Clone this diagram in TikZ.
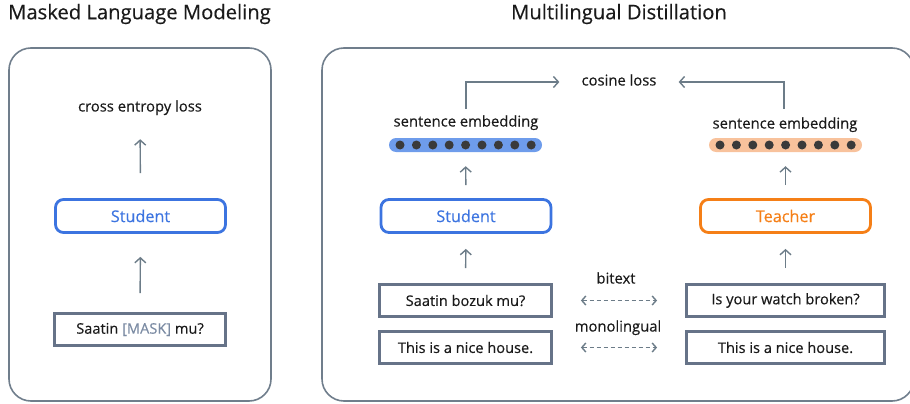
\documentclass[tikz,border=0pt]{standalone}
\usepackage{fontspec}
\setmainfont{Open Sans}[FakeBold=0.35]
\usetikzlibrary{arrows.meta}
\definecolor{bluec}{HTML}{3C74E0}
\definecolor{orangec}{HTML}{F57F17}
\definecolor{boxgray}{HTML}{667388}
\definecolor{panelgray}{HTML}{707E8C}
\definecolor{arrgray}{HTML}{6C7C88}
\definecolor{bluebar}{HTML}{6E9CEB}
\definecolor{orangebar}{HTML}{F8C29C}
\definecolor{dotc}{HTML}{3A3A3A}
\definecolor{maskc}{HTML}{7B8BA3}
\definecolor{txt}{HTML}{1A1A1A}
\begin{document}
\begin{tikzpicture}[x=1pt,y=-1pt,
  panel/.style={draw=panelgray, line width=1.6pt, rounded corners=22pt},
  model/.style={draw, line width=2.8pt, rounded corners=8pt, minimum width=170pt, minimum height=33pt, inner sep=0pt, font=\fontsize{16.2}{18}\selectfont},
  textbox/.style={draw=boxgray, line width=2.8pt, minimum height=32pt, inner sep=0pt, text=txt, font=\fontsize{14.6}{17}\selectfont},
  lbl/.style={inner sep=0pt, text height=10pt, text depth=3pt, text=txt, font=\fontsize{14.8}{17}\selectfont},
  arr/.style={draw=arrgray, line width=1.4pt, -{Straight Barb[length=5pt,width=11pt]}},
  darr/.style={draw=arrgray, line width=1.4pt, dash pattern=on 4pt off 3pt, {Straight Barb[length=4pt,width=9pt]}-{Straight Barb[length=4pt,width=9pt]}},
  title/.style={inner sep=0pt, text=txt, font=\fontsize{20.2}{23}\selectfont},
  bar/.style={rounded corners=7pt, minimum width=153pt, minimum height=14pt, inner sep=0pt},
  dot/.style={circle, fill=dotc, minimum size=9pt, inner sep=0pt}
]
\useasboundingbox (0,0) rectangle (910,404);
\begin{scope}
\clip (0,0) rectangle (910,404);
% titles
\node[title, anchor=west] (t1) at (8,14) {Masked Language Modeling};
\node[title] (t2) at (619,14) {Multilingual Distillation};
% panels
\draw[panel] (9,48) rectangle (271,401);
\draw[panel] (322,48) rectangle (914,401);

% left panel
\node[lbl] (cel) at (140,108) {cross entropy loss};
\node[model, draw=bluec, text=bluec] (stud) at (140.5,216) {Student};
\node[textbox, minimum width=171pt] (mask) at (140,329.5) {Saatin \textcolor{maskc}{[MASK]} mu?};
\draw[arr, shorten <=19pt, shorten >=23pt] (mask.north) -- (stud.south);
\draw[arr, shorten <=25pt, shorten >=24.5pt] (stud.north) -- (cel.south);

% right panel: student side
\node[lbl] (cos) at (619,82) {cosine loss};
\node[lbl] (se1) at (466,123) {sentence embedding};
\node[bar, fill=bluebar] (bar1) at (465.5,145) {};
\foreach \i in {0,...,8} \node[dot] (d1\i) at (400+16.4*\i,145) {};
\node[model, draw=bluec, text=bluec] (stud2) at (466,216) {Student};
\node[textbox, minimum width=172pt] (src1) at (465.5,300.5) {Saatin bozuk mu?};
\node[textbox, minimum width=172pt] (src2) at (465.5,347.5) {This is a nice house.};

% teacher side
\node[lbl] (se2) at (785,125) {sentence embedding};
\node[bar, fill=orangebar] (bar2) at (785.5,145) {};
\foreach \i in {0,...,8} \node[dot] (d2\i) at (720+16.4*\i,145) {};
\node[model, draw=orangec, text=orangec] (teach) at (785.5,216) {Teacher};
\node[textbox, minimum width=198pt] (tgt1) at (785.5,300.5) {Is your watch broken?};
\node[textbox, minimum width=198pt] (tgt2) at (785.5,347.5) {This is a nice house.};

% arrows
\draw[arr, shorten <=15pt, shorten >=15pt] (src1.north) -- (stud2.south);
\draw[arr, shorten <=15pt, shorten >=15pt] (tgt1.north) -- (teach.south);
\draw[arr, shorten <=13pt, shorten >=14pt] (stud2.north) -- (bar1.south);
\draw[arr, shorten <=13pt, shorten >=14pt] (teach.north) -- (bar2.south);
\draw[arr, shorten <=7.5pt, shorten >=22pt] (se1.north) |- (cos.west);
\draw[arr, shorten <=9.5pt, shorten >=22pt] (se2.north -| 784,0) |- (cos.east);

% dashed links
\node[lbl] (bt) at (616,280) {bitext};
\node[lbl] (ml) at (618,328) {monolingual};
\draw[darr, shorten <=28pt, shorten >=28pt] (src1.east) -- (tgt1.west);
\draw[darr, shorten <=28pt, shorten >=28pt] (src2.east) -- (tgt2.west);
\end{scope}
\end{tikzpicture}
\end{document}
